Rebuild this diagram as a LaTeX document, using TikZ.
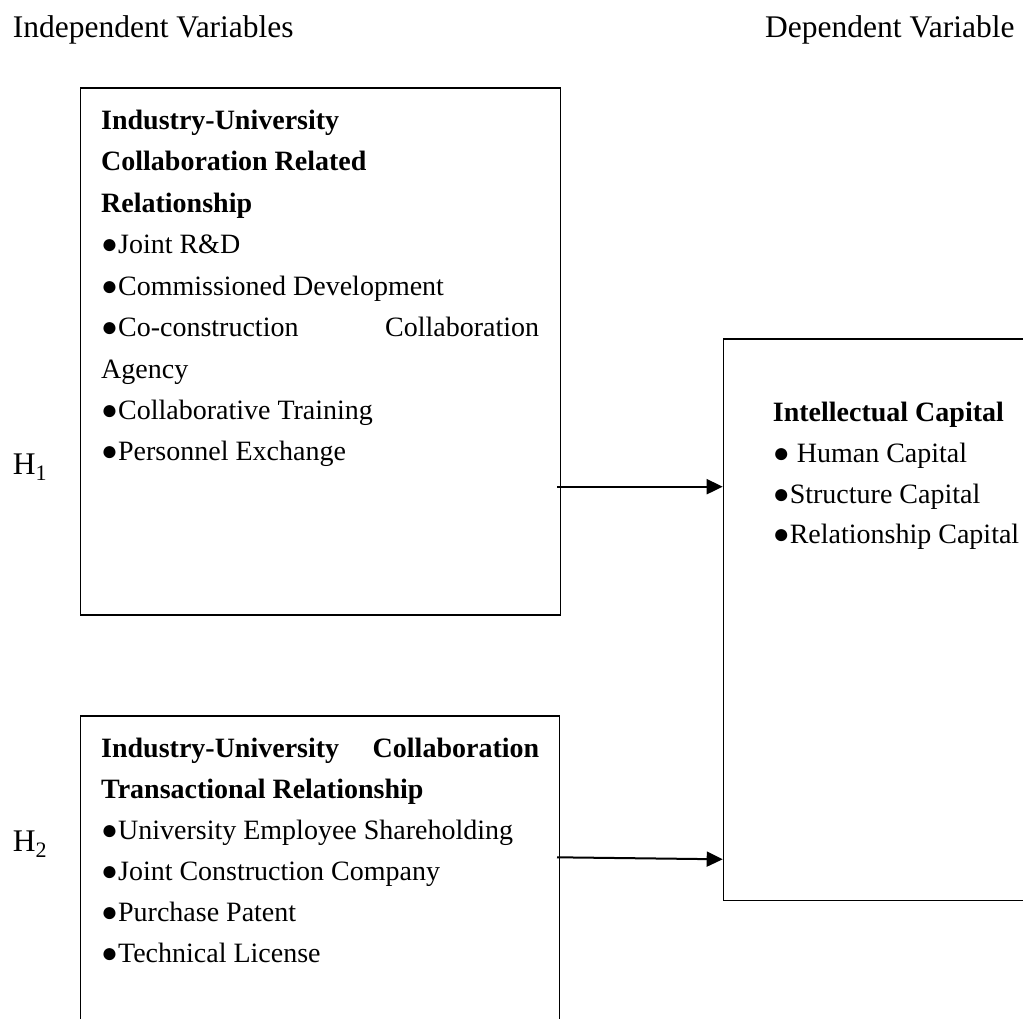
\documentclass[tikz,border=0pt]{standalone}
\usepackage{fontspec}
\setmainfont{Liberation Serif}
\usetikzlibrary{arrows.meta}
\tikzset{
  boxshape/.style={draw=black, line width=1.3pt, inner sep=0pt, anchor=north west},
  txt/.style={anchor=base west, inner sep=0pt, font=\fontsize{28}{34}\selectfont},
  hdr/.style={anchor=base west, inner sep=0pt, font=\fontsize{31.5}{38}\selectfont},
  arr/.style={line width=2pt, -{Triangle[length=16pt,width=15pt]}}
}
\begin{document}
\begin{tikzpicture}[x=1pt,y=-1pt]
\useasboundingbox (0,0) rectangle (1023,1019);
\clip (0,0) rectangle (1023,1019);
% headers
\node[hdr] (indep) at (12.7,38) {Independent Variables};
\node[hdr] (dep) at (765,37.5) {Dependent Variable};
% boxes
\node[boxshape, minimum width=480pt, minimum height=527pt] (B1) at (79.5,87.3) {};
\node[boxshape, minimum width=479pt, minimum height=420pt] (B2) at (79.5,715.3) {};
\node[boxshape, minimum width=400pt, minimum height=561.7pt] (B3) at (722.7,338.3) {};
% box 1 text
\node[txt] (a1) at (101,129.6) {\textbf{Industry-University}};
\node[txt] (a2) at (101,171) {\textbf{Collaboration Related}};
\node[txt] (a3) at (101,212.4) {\textbf{Relationship}};
\node[txt] (a4) at (101,253.8) {●Joint R\&D};
\node[txt] (a5) at (101,295.2) {●Commissioned Development};
\node[txt] (a6) at (101,336.6) {\makebox[438pt][s]{●Co-construction Collaboration}};
\node[txt] (a7) at (101,378) {Agency};
\node[txt] (a8) at (101,419.4) {●Collaborative Training};
\node[txt] (a9) at (101,460.8) {●Personnel Exchange};
% box 2 text
\node[txt] (c1) at (101,757) {\makebox[438pt][s]{\textbf{Industry-University Collaboration}}};
\node[txt] (c2) at (101,798) {\textbf{Transactional Relationship}};
\node[txt] (c3) at (101,839) {●University Employee Shareholding};
\node[txt] (c4) at (101,880) {●Joint Construction Company};
\node[txt] (c5) at (101,921) {●Purchase Patent};
\node[txt] (c6) at (101,962) {●Technical License};
% box 3 text
\node[txt] (d1) at (772.7,421.7) {\textbf{Intellectual Capital}};
\node[txt] (d2) at (772.7,462.4) {● Human Capital};
\node[txt] (d3) at (772.7,503.1) {●Structure Capital};
\node[txt] (d4) at (772.7,543.8) {●Relationship Capital};
% hypothesis labels
\node[hdr] (h1) at (12.7,474.3) {H\textsubscript{1}};
\node[hdr] (h2) at (12.7,851) {H\textsubscript{2}};
% arrows
\coordinate (s1) at (557,486.7);
\coordinate (s2) at (557,857.3);
\coordinate (e2) at (722.7,859.3);
\draw[arr] (s1) -- (s1 -| B3.west);
\draw[arr] (s2) -- (e2);
\end{tikzpicture}
\end{document}
